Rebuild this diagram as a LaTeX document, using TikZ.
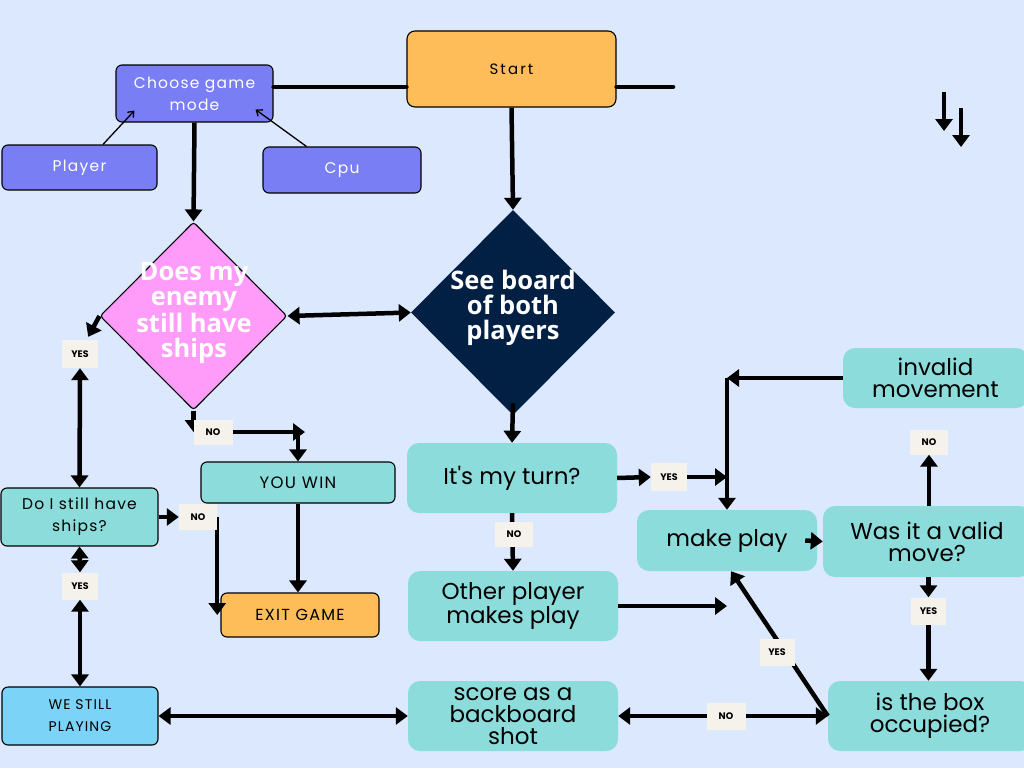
\documentclass[tikz,border=0pt]{standalone}
\usepackage{fontspec}
\setmainfont{Poppins}
\newfontfamily\tealfont{Poppins}[Ligatures=TeXOff]
\newfontfamily\diafont{Open Sans}
\newfontfamily\spacedfont{Poppins}[LetterSpace=8]
\newfontfamily\startfont{Poppins}[LetterSpace=14]
\usetikzlibrary{shapes.geometric,arrows.meta}
\pgfdeclarelayer{front}
\pgfsetlayers{main,front}
\definecolor{bgc}{HTML}{DBE8FD}
\definecolor{tealc}{HTML}{8BDCDB}
\definecolor{peri}{HTML}{7A7EF5}
\definecolor{orangec}{HTML}{FEBD59}
\definecolor{pinkc}{HTML}{FF9BF9}
\definecolor{navyc}{HTML}{021F44}
\definecolor{lbluec}{HTML}{7BD4F7}
\definecolor{cream}{HTML}{F5F2EB}
\begin{document}
\begin{tikzpicture}[x=1pt,y=-1pt]
\tikzset{
 every node/.style={align=center, inner sep=0pt, text=black},
 lineb/.style={draw=black, line width=1.1pt, rounded corners=6pt},
 tealbox/.style={fill=tealc, rounded corners=12pt, font=\tealfont\fontsize{23}{22}\selectfont},
 smallbox/.style={lineb, font=\spacedfont\fontsize{15.5}{22}\selectfont},
 perbox/.style={smallbox, fill=peri, text=white},
 lbl/.style={fill=cream, font=\bfseries\fontsize{9.5}{10}\selectfont},
 diatext/.style={font=\diafont\bfseries\fontsize{25.5}{25}\selectfont, text=white},
 flow/.style={line width=4.5pt, -{Triangle[width=17pt,length=12pt]}},
 twoway/.style={line width=4.5pt, {Triangle[width=17pt,length=12pt]}-{Triangle[width=17pt,length=12pt]}},
 plain/.style={line width=4.5pt, line cap=round},
 fine/.style={line width=1.3pt, -{Straight Barb[length=5pt,width=8pt]}},
}
\fill[bgc] (0,0) rectangle (1024,768);
\useasboundingbox (0,0) rectangle (1024,768);

% boxes
\node[lineb, fill=orangec, minimum width=209pt, minimum height=76pt, rounded corners=8pt, font=\startfont\fontsize{15}{16}\selectfont] (start) at (511.5,69) {Start};
\node[perbox, minimum width=157pt, minimum height=57pt] (choose) at (194.5,93.5) {Choose game\\mode};
\node[perbox, minimum width=155pt, minimum height=45pt] (player) at (79.5,167.5) {Player};
\node[perbox, minimum width=158pt, minimum height=46pt] (cpu) at (342,170) {Cpu};

\node[diamond, draw=black, line width=1.1pt, fill=pinkc, rounded corners=3pt, minimum width=187pt, minimum height=188pt] (enemy) at (193.5,316) {};
\node[diatext] (enemyt) at (194,313) {Does my\\enemy\\still have\\ships};
\node[diamond, fill=navyc, minimum width=204pt, minimum height=205pt] (board) at (513,312.5) {};
\node[diatext] (boardt) at (513,308) {See board\\of both\\players};

\node[tealbox, minimum width=210pt, minimum height=70pt] (turn) at (512,478) {It's my turn?};
\node[tealbox, minimum width=210pt, minimum height=70pt] (other) at (513,606) {Other player\\makes play};
\node[tealbox, minimum width=210pt, minimum height=70pt] (score) at (513,716) {score as a\\backboard\\shot};
\node[tealbox, minimum width=180pt, minimum height=61pt] (makeplay) at (727,540.5) {make play};
\node[tealbox, minimum width=208pt, minimum height=71pt] (valid) at (927,541.5) {Was it a valid\\move?};
\node[tealbox, minimum width=185pt, minimum height=60pt] (invalid) at (935.5,378) {invalid\\movement};
\node[tealbox, minimum width=204pt, minimum height=70pt] (occ) at (930,716) {is the box\\occupied?};

\node[smallbox, fill=tealc, minimum width=157pt, minimum height=58pt] (doi) at (79.5,517) {Do I still have\\ships?};
\node[smallbox, fill=tealc, minimum width=194pt, minimum height=41pt, font=\spacedfont\fontsize{16.5}{22}\selectfont] (youwin) at (298,482.5) {YOU WIN};
\node[smallbox, fill=orangec, minimum width=158pt, minimum height=44pt, font=\spacedfont\fontsize{16}{22}\selectfont] (exit) at (300,615) {EXIT GAME};
\node[smallbox, fill=lbluec, minimum width=156pt, minimum height=58pt, font=\spacedfont\fontsize{14}{22}\selectfont] (still) at (80,716) {WE STILL\\PLAYING};

% labels
\begin{pgfonlayer}{front}
\node[lbl, minimum width=36pt, minimum height=28pt] (yes1) at (80,354) {YES};
\node[lbl, minimum width=36pt, minimum height=27pt] (yes2) at (80,586) {YES};
\node[lbl, minimum width=38pt, minimum height=26pt] (no1) at (198,517) {NO};
\node[lbl, minimum width=39pt, minimum height=25pt] (no2) at (213,432) {NO};
\node[lbl, minimum width=38pt, minimum height=25pt] (no3) at (514,534) {NO};
\node[lbl, minimum width=36pt, minimum height=28pt] (yes3) at (669,477) {YES};
\node[lbl, minimum width=38pt, minimum height=25pt] (no4) at (929,442) {NO};
\node[lbl, minimum width=35pt, minimum height=27pt] (yes4) at (928.5,611) {YES};
\node[lbl, minimum width=35pt, minimum height=27pt] (yes5) at (777,652) {YES};
\node[lbl, minimum width=39pt, minimum height=27pt] (no5) at (726,716) {NO};
\end{pgfonlayer}

% free coordinates
\coordinate (sr) at (673,87);
\coordinate (fa1) at (944,92);
\coordinate (fa2) at (944,131);
\coordinate (fb1) at (961,108);
\coordinate (fb2) at (961,147);

% connectors
\draw[plain] ([yshift=6.5pt]choose.east) -- ([yshift=6.5pt]choose.east -| start.west);
\draw[plain] ([yshift=-18pt]start.east) -- (sr);
\draw[fine] ([xshift=23.5pt]player.north) -- ([shift={(19pt,12pt)}]choose.south west);
\draw[fine] ([xshift=44pt]cpu.north west) -- ([shift={(-18pt,13pt)}]choose.south east);
\draw[flow] (choose.south) -- (enemy.north);
\draw[flow] (start.south) -- (board.north);
\draw[twoway] (enemy.east) -- (board.west);
\draw[flow] (enemy.west) -- ([shift={(-10pt,3pt)}]yes1.north east);
\draw[twoway] (yes1.south) -- (doi.north);
\draw[twoway] (doi.south) -- (yes2.north);
\draw[twoway] (yes2.south) -- (still.north);
\draw[twoway] (still.east) -- (score.west);
\draw[flow] (doi.east) -- (no1.west);
\draw[flow] (no1.east) -- (no1.east |- exit.west);
\draw[flow] (youwin.south) -- (youwin.south |- exit.north);
\draw[flow] (enemy.south) -- (enemy.south |- no2.center);
\draw[flow] (no2.east) -- ([xshift=7pt]no2.east -| youwin.north);
\draw[flow] (no2.east -| youwin.north) -- (youwin.north);
\draw[flow] ([yshift=12pt]board.south) -- (turn.north);
\draw[flow] (turn.south) -- (other.north);
\draw[flow] (turn.east) -- (yes3.west);
\draw[flow] (yes3.east) -- (yes3.east -| makeplay.north);
\draw[flow] (invalid.west) -- (invalid.west -| makeplay.north);
\draw[flow] (invalid.west -| makeplay.north) -- (makeplay.north);
\draw[flow] ([xshift=-12pt]makeplay.east) -- (valid.west);
\draw[flow] (no4.south |- valid.north) -- (no4.south);
\draw[flow] (yes4.north |- valid.south) -- (yes4.north);
\draw[flow] (yes4.south) -- (yes4.south |- occ.north);
\draw[flow] (occ.west) -- ([xshift=4pt]makeplay.south);
\draw[twoway] (occ.west) -- (score.east);
\draw[flow] (other.east) -- (other.east -| makeplay.south);
\draw[flow] (fa1) -- (fa2);
\draw[flow] (fb1) -- (fb2);
\end{tikzpicture}
\end{document}
